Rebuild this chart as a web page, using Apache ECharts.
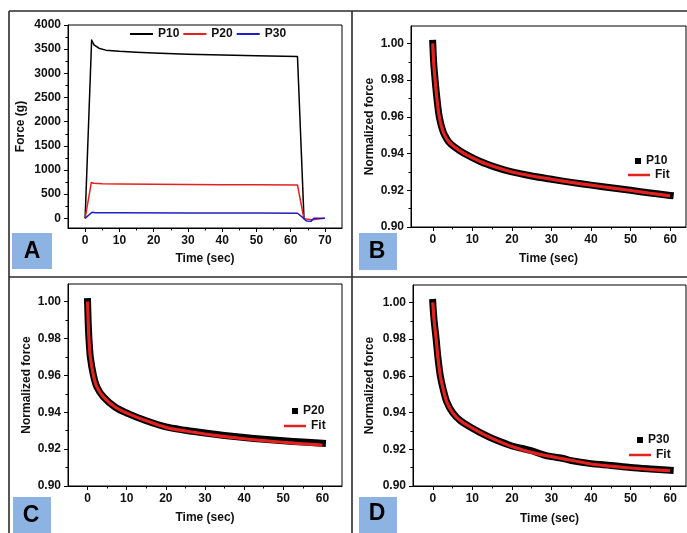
<!DOCTYPE html>
<html><head><meta charset="utf-8">
<script src="https://cdn.jsdelivr.net/npm/echarts@6/dist/echarts.min.js"></script>
<style>html,body{margin:0;padding:0;background:#fff}#c{width:687px;height:533px}</style>
</head><body><div id="c"></div>
<script>
// ---------- Panel A: force vs time ----------
const timeA10 = [0, 1.9, 2.6, 4, 6, 10, 15, 20, 30, 40, 50, 62, 63.9];
const forceA10 = [0, 3690, 3590, 3520, 3480, 3455, 3435, 3420, 3395, 3380, 3365, 3350, 0];
const timeA20 = [0, 1.8, 2.5, 5, 10, 20, 30, 40, 50, 62, 63.9, 64.4, 66.3, 66.8, 70];
const forceA20 = [0, 740, 725, 715, 710, 705, 700, 695, 693, 690, -10, -28, -28, 0, 0];
const timeA30 = [0, 2, 3, 10, 30, 50, 62, 63.5, 64.6, 66, 66.8, 70];
const forceA30 = [0, 125, 118, 115, 112, 110, 105, 20, -55, -58, 0, 0];

// ---------- Panel B: P10 normalized ----------
const timeB = [0, 0.25, 0.6, 1, 1.5, 2, 2.5, 3, 4, 5.5, 8, 12, 16, 20, 25, 30, 35, 40, 45, 50, 55, 60];
const dataB = [1.000, 0.989, 0.980, 0.971, 0.962, 0.9565, 0.9527, 0.950, 0.9465, 0.9436, 0.940, 0.9357, 0.9325, 0.930, 0.9278, 0.926, 0.9243, 0.9228, 0.9214, 0.920, 0.9185, 0.9172];
const fitB  = [1.000, 0.989, 0.980, 0.971, 0.962, 0.9565, 0.9527, 0.950, 0.9465, 0.9436, 0.940, 0.9357, 0.9325, 0.930, 0.9278, 0.926, 0.9243, 0.9228, 0.9213, 0.9199, 0.9184, 0.917];

// ---------- Panel C: P20 normalized ----------
const timeC = [0, 0.17, 0.35, 0.7, 1.5, 2.4, 4.1, 7.1, 10.5, 14.8, 20, 25, 30, 35, 40, 45, 50, 55, 60];
const dataC = [1.000, 0.988, 0.980, 0.970, 0.960, 0.9536, 0.9482, 0.9427, 0.9391, 0.9355, 0.932, 0.9302, 0.9287, 0.9274, 0.9263, 0.9253, 0.9245, 0.9238, 0.9232];
const fitC  = [1.000, 0.988, 0.980, 0.970, 0.960, 0.9536, 0.9482, 0.9427, 0.9391, 0.9355, 0.9318, 0.9298, 0.9282, 0.9268, 0.9256, 0.9246, 0.9237, 0.9229, 0.9222];

// ---------- Panel D: P30 normalized ----------
const timeD = [0, 0.3, 0.85, 1.3, 1.9, 2.6, 3.5, 5, 7, 10, 13, 16, 20, 23, 25, 28, 30, 33, 35, 40, 45, 50, 55, 60];
const dataD = [1.000, 0.991, 0.980, 0.970, 0.960, 0.953, 0.946, 0.940, 0.9355, 0.9315, 0.928, 0.925, 0.9218, 0.9203, 0.9192, 0.9170, 0.9160, 0.9150, 0.9138, 0.9122, 0.9112, 0.9101, 0.9093, 0.9086];
const fitD  = [1.000, 0.991, 0.980, 0.970, 0.960, 0.953, 0.946, 0.940, 0.9355, 0.9315, 0.928, 0.925, 0.9215, 0.9195, 0.9183, 0.9168, 0.916, 0.9148, 0.914, 0.912, 0.9108, 0.9098, 0.909, 0.9083];

// ---------- tick labels ----------
const ticksA_x = [0, 10, 20, 30, 40, 50, 60, 70];
const minorA_x = [5, 15, 25, 35, 45, 55, 65];
const ticksA_y = [0, 500, 1000, 1500, 2000, 2500, 3000, 3500, 4000];
const minorA_y = [250, 750, 1250, 1750, 2250, 2750, 3250, 3750];
const ticksN_x = [0, 10, 20, 30, 40, 50, 60];
const minorN_x = [5, 15, 25, 35, 45, 55];
const ticksN_y = [0.90, 0.92, 0.94, 0.96, 0.98, 1.00];
const minorN_y = [0.91, 0.93, 0.95, 0.97, 0.99];

const FONT = 'Liberation Sans, Arial, sans-serif';
const zip = (a, b) => a.map((t, i) => [t, b[i]]);

const grids = [
  {left: 68, top: 25, width: 274, height: 203},
  {left: 411, top: 26, width: 275, height: 201},
  {left: 68, top: 284, width: 274, height: 202},
  {left: 413, top: 285, width: 273, height: 201}
];
const xr = [[-5, 75], [-5.5, 64], [-5, 65], [-5, 64]];
const yr = [[-200, 4000], [0.90, 1.0095], [0.90, 1.0095], [0.90, 1.0095]];
const yNames = ['Force (g)', 'Normalized force', 'Normalized force', 'Normalized force'];
const yGaps = [41, 35, 35, 37];
const xGaps = [25, 26, 26, 27];
const yFmt = [v => String(v), v => v.toFixed(2), v => v.toFixed(2), v => v.toFixed(2)];

const xAxis = [], yAxis = [];
grids.forEach((g, i) => {
  const xm = i === 0 ? ticksA_x : ticksN_x, xn = i === 0 ? minorA_x : minorN_x;
  const ym = i === 0 ? ticksA_y : ticksN_y, yn = i === 0 ? minorA_y : minorN_y;
  const nameStyle = {fontFamily: FONT, fontWeight: 'bold', fontSize: 12, color: '#111'};
  xAxis.push({
    type: 'value', gridIndex: i, min: xr[i][0], max: xr[i][1], position: 'bottom',
    axisLine: {show: true, onZero: false, lineStyle: {color: '#000', width: 1}},
    axisTick: {show: true, length: 4, customValues: xm, lineStyle: {color: '#000'}},
    axisLabel: {customValues: xm, margin: 7, fontFamily: FONT, fontWeight: 'bold', fontSize: 12, color: '#111'},
    splitLine: {show: false},
    name: 'Time (sec)', nameLocation: 'middle', nameGap: xGaps[i], nameTextStyle: nameStyle
  });
  xAxis.push({
    type: 'value', gridIndex: i, min: xr[i][0], max: xr[i][1], position: 'bottom',
    axisLine: {show: false, onZero: false},
    axisTick: {show: true, length: 2.5, customValues: xn, lineStyle: {color: '#000'}},
    axisLabel: {show: false}, splitLine: {show: false}
  });
  yAxis.push({
    type: 'value', gridIndex: i, min: yr[i][0], max: yr[i][1], position: 'left',
    axisLine: {show: true, onZero: false, lineStyle: {color: '#000', width: 1}},
    axisTick: {show: true, length: 4, customValues: ym, lineStyle: {color: '#000'}},
    axisLabel: {customValues: ym, formatter: yFmt[i], margin: 7, fontFamily: FONT, fontWeight: 'bold', fontSize: 12, color: '#111'},
    splitLine: {show: false},
    name: yNames[i], nameLocation: 'middle', nameGap: yGaps[i], nameTextStyle: nameStyle
  });
  yAxis.push({
    type: 'value', gridIndex: i, min: yr[i][0], max: yr[i][1], position: 'left',
    axisLine: {show: false, onZero: false},
    axisTick: {show: true, length: 2.5, customValues: yn, lineStyle: {color: '#000'}},
    axisLabel: {show: false}, splitLine: {show: false}
  });
});

const lineS = (name, gi, data, color, width, z, cap, smooth) => ({
  type: 'line', name, xAxisIndex: 2 * gi, yAxisIndex: 2 * gi, data,
  showSymbol: false, symbol: 'none', smooth: smooth || false, z, silent: true,
  lineStyle: {color, width, cap: cap || 'butt', join: 'round'}, itemStyle: {color}
});

const RED = '#e3211e', BLUE = '#1f1fc8';
const SM = 0.3;
const series = [
  lineS('P10', 0, zip(timeA10, forceA10), '#000', 1.5, 2),
  lineS('P20', 0, zip(timeA20, forceA20), RED, 1.5, 3),
  lineS('P30', 0, zip(timeA30, forceA30), BLUE, 1.5, 4),
  lineS('P10', 1, zip(timeB, dataB), '#000', 7, 2, 'square', SM),
  lineS('Fit', 1, zip(timeB, fitB), RED, 3.2, 3, 'butt', SM),
  lineS('P20', 2, zip(timeC, dataC), '#000', 7, 2, 'square', SM),
  lineS('Fit', 2, zip(timeC, fitC), RED, 3.2, 3, 'butt', SM),
  lineS('P30', 3, zip(timeD, dataD), '#000', 7, 2, 'square', SM),
  lineS('Fit', 3, zip(timeD, fitD), RED, 3.2, 3, 'butt', SM)
];

const legTxt = {fontFamily: FONT, fontWeight: 'bold', fontSize: 12, color: '#111'};
const sqLeg = (name, left, top) => ({
  left, top, orient: 'vertical', itemWidth: 6, itemHeight: 6, itemGap: 0, padding: 0,
  data: [{name, icon: 'rect', itemStyle: {color: '#000'}}], textStyle: legTxt, selectedMode: false
});
const fitLeg = (left, top) => ({
  left, top, orient: 'vertical', itemWidth: 22, itemHeight: 2.5, itemGap: 0, padding: 0,
  data: [{name: 'Fit', icon: 'rect', itemStyle: {color: RED}}], textStyle: legTxt, selectedMode: false
});
const legend = [
  {left: 130, top: 28, orient: 'horizontal', itemWidth: 23, itemHeight: 2, itemGap: 4, padding: 0,
   data: [{name: 'P10', icon: 'rect', itemStyle: {color: '#000'}}, {name: 'P20', icon: 'rect', itemStyle: {color: RED}}, {name: 'P30', icon: 'rect', itemStyle: {color: BLUE}}],
   textStyle: legTxt, selectedMode: false},
  sqLeg('P10', 635, 155), fitLeg(628, 169),
  sqLeg('P20', 292, 405), fitLeg(284, 420),
  sqLeg('P30', 637, 434), fitLeg(629, 449)
];

const LC = '#2b2b2b';
const hl = (x1, y1, x2, y2) => ({type: 'line', silent: true, shape: {x1, y1, x2, y2}, style: {stroke: LC, lineWidth: 1.6}, z: 10});
const box = (x, y, w, h, letter, tx, ty) => ([
  {type: 'rect', silent: true, shape: {x, y, width: w, height: h}, style: {fill: '#8db3e2'}, z: 5},
  {type: 'text', silent: true, x: tx, y: ty, style: {text: letter, font: 'bold 23px ' + FONT, fill: '#000', align: 'center', verticalAlign: 'middle'}, z: 6}
]);
const graphic = [
  hl(9, 11, 687, 11), hl(9, 11, 9, 533), hl(352, 11, 352, 533), hl(9, 277, 687, 277),
  ...box(12, 233, 40, 36, 'A', 32, 252),
  ...box(359, 233, 38, 37, 'B', 377, 252),
  ...box(13, 497, 38, 36, 'C', 31, 516),
  ...box(359, 497, 38, 36, 'D', 377, 514)
];

const chart = echarts.init(document.getElementById('c'), null, {renderer: 'canvas'});
chart.setOption({
  animation: false,
  backgroundColor: '#fff',
  grid: grids.map(g => Object.assign({show: true, borderColor: '#000', borderWidth: 1, backgroundColor: 'transparent', containLabel: false}, g)),
  xAxis, yAxis, series, legend, graphic
});
</script></body></html>
